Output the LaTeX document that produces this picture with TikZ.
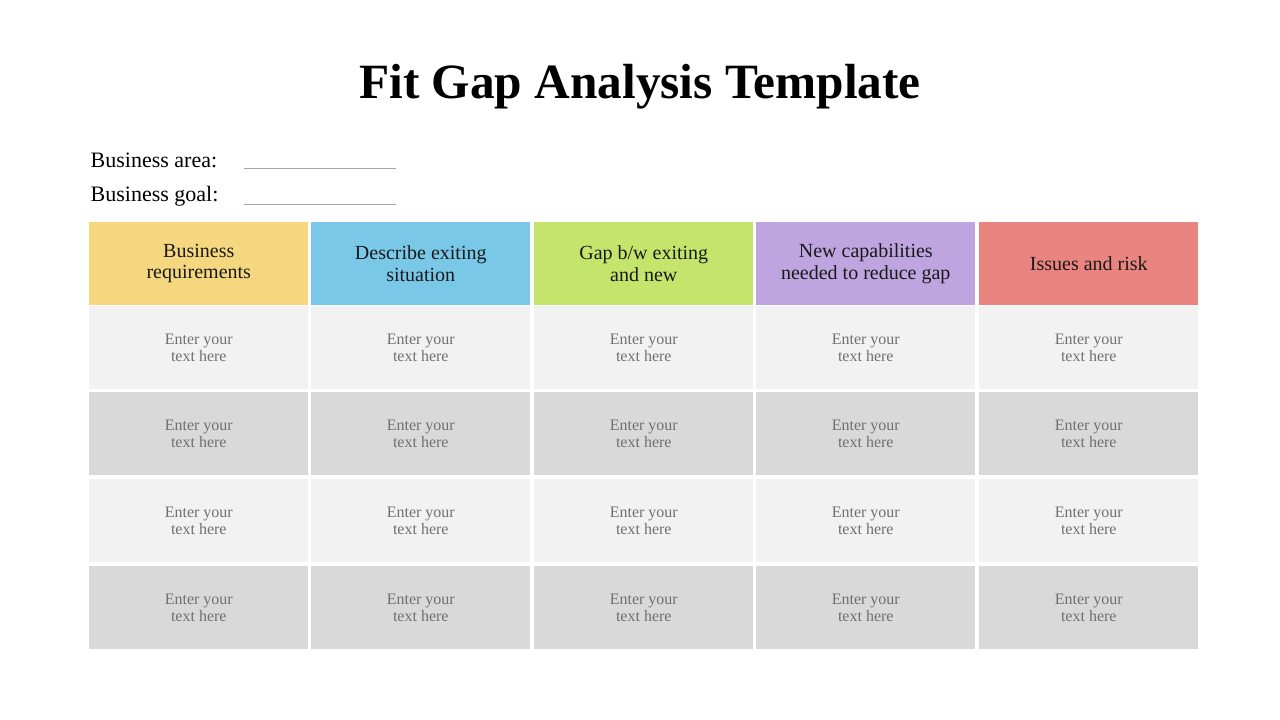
\documentclass[tikz,border=0pt]{standalone}
\usepackage{fontspec}
\setmainfont{Liberation Serif}
\definecolor{cY}{HTML}{F5D77F}
\definecolor{cB}{HTML}{79C8E8}
\definecolor{cG}{HTML}{C5E46C}
\definecolor{cP}{HTML}{BEA5E0}
\definecolor{cR}{HTML}{E98480}
\definecolor{rowL}{HTML}{F2F2F2}
\definecolor{rowD}{HTML}{D9D9D9}
\definecolor{txtG}{HTML}{707070}
\tikzset{
 cell/.style={anchor=north west,inner sep=0pt,minimum width=164.25pt,minimum height=62pt,align=center,font=\fontsize{12}{12.5}\selectfont,text=txtG},
 head/.style={cell,text=black!90,font=\fontsize{15}{16}\selectfont}
}
\begin{document}
\begin{tikzpicture}[x=0.75pt,y=-0.75pt]
\useasboundingbox (0,0) rectangle (1280,720);
\node (title) at (640,87) {\fontsize{37}{40}\selectfont\bfseries Fit Gap Analysis Template};
\node[anchor=west,font=\fontsize{16.5}{18}\selectfont] (area) at (86,160) {Business area:};
\node[anchor=west,font=\fontsize{16.5}{18}\selectfont] (goal) at (86,196) {Business goal:};
\draw[gray!70] (244,168) -- (396,168);
\draw[gray!70] (244,204) -- (396,204);
\foreach \x/\c/\t [count=\i] in {89/cY/{Business\\requirements},311/cB/{Describe exiting\\situation},534/cG/{Gap b/w exiting\\and new},756/cP/{New capabilities\\needed to reduce gap},979/cR/{Issues and risk}}{
  \node[head,fill=\c] (h\i) at (\x,222) {\t};
  \foreach \y/\f [count=\j] in {306/rowL,392/rowD,479/rowL,566/rowD}{
    \node[cell,fill=\f] (c\i\j) at (\x,\y) {Enter your\\text here};
  }
}
\end{tikzpicture}
\end{document}
